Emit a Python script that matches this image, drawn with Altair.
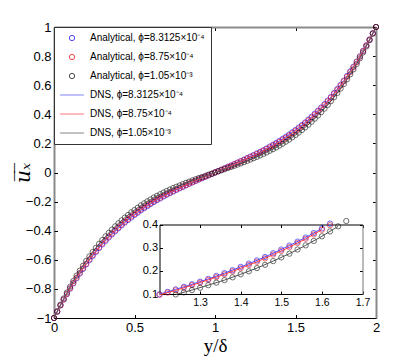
import altair as alt
import pandas as pd

# sampling positions y/delta
Y_ANALYTICAL = [round(0.02 * i, 2) for i in range(101)]
Y_DNS = [round(0.04 * i, 2) for i in range(51)]

U_AN_BLUE = [
    -1.000, -0.957, -0.914, -0.874, -0.836, -0.798, -0.762, -0.727, -0.695, -0.663,
    -0.631, -0.602, -0.574, -0.546, -0.519, -0.494, -0.470, -0.447, -0.425, -0.404,
    -0.383, -0.363, -0.344, -0.326, -0.309, -0.292, -0.276, -0.260, -0.245, -0.231,
    -0.217, -0.203, -0.190, -0.178, -0.165, -0.153, -0.142, -0.131, -0.120, -0.109,
    -0.099, -0.088, -0.078, -0.068, -0.058, -0.048, -0.039, -0.029, -0.019, -0.010,
    0.000,
    0.010, 0.019, 0.029, 0.039, 0.048, 0.058, 0.068, 0.078, 0.088, 0.099,
    0.109, 0.120, 0.131, 0.142, 0.153, 0.165, 0.178, 0.190, 0.203, 0.217,
    0.231, 0.245, 0.260, 0.276, 0.292, 0.309, 0.326, 0.344, 0.363, 0.383,
    0.404, 0.425, 0.447, 0.470, 0.494, 0.519, 0.546, 0.574, 0.602, 0.631,
    0.663, 0.695, 0.727, 0.762, 0.798, 0.836, 0.874, 0.914, 0.957, 1.000,
]
U_AN_RED = [
    -1.000, -0.956, -0.913, -0.873, -0.834, -0.796, -0.759, -0.723, -0.690, -0.658,
    -0.627, -0.597, -0.568, -0.541, -0.514, -0.488, -0.464, -0.441, -0.419, -0.397,
    -0.377, -0.357, -0.338, -0.320, -0.302, -0.286, -0.270, -0.254, -0.239, -0.225,
    -0.211, -0.198, -0.185, -0.173, -0.161, -0.149, -0.138, -0.127, -0.116, -0.106,
    -0.096, -0.086, -0.076, -0.066, -0.056, -0.047, -0.037, -0.028, -0.019, -0.009,
    0.000,
    0.009, 0.019, 0.028, 0.037, 0.047, 0.056, 0.066, 0.076, 0.086, 0.096,
    0.106, 0.116, 0.127, 0.138, 0.149, 0.161, 0.173, 0.185, 0.198, 0.211,
    0.225, 0.239, 0.254, 0.270, 0.286, 0.302, 0.320, 0.338, 0.357, 0.377,
    0.397, 0.419, 0.441, 0.464, 0.488, 0.514, 0.541, 0.568, 0.597, 0.627,
    0.658, 0.690, 0.723, 0.759, 0.796, 0.834, 0.873, 0.913, 0.956, 1.000,
]
U_AN_BLACK = [
    -1.000, -0.954, -0.909, -0.866, -0.825, -0.785, -0.746, -0.709, -0.675, -0.641,
    -0.608, -0.577, -0.547, -0.518, -0.490, -0.464, -0.439, -0.415, -0.392, -0.370,
    -0.349, -0.329, -0.310, -0.292, -0.274, -0.258, -0.242, -0.226, -0.212, -0.198,
    -0.185, -0.172, -0.160, -0.149, -0.138, -0.127, -0.117, -0.107, -0.098, -0.089,
    -0.080, -0.071, -0.063, -0.054, -0.046, -0.038, -0.031, -0.023, -0.015, -0.008,
    0.000,
    0.008, 0.015, 0.023, 0.031, 0.038, 0.046, 0.054, 0.063, 0.071, 0.080,
    0.089, 0.098, 0.107, 0.117, 0.127, 0.138, 0.149, 0.160, 0.172, 0.185,
    0.198, 0.212, 0.226, 0.242, 0.258, 0.274, 0.292, 0.310, 0.329, 0.349,
    0.370, 0.392, 0.415, 0.439, 0.464, 0.490, 0.518, 0.547, 0.577, 0.608,
    0.641, 0.675, 0.709, 0.746, 0.785, 0.825, 0.866, 0.909, 0.954, 1.000,
]

U_DNS_BLUE = [
    -1.000, -0.914, -0.836, -0.762, -0.695, -0.631, -0.574, -0.519, -0.470, -0.425,
    -0.383, -0.344, -0.309, -0.276, -0.245, -0.217, -0.190, -0.165, -0.142, -0.120,
    -0.099, -0.078, -0.058, -0.039, -0.019, 0.000, 0.019, 0.039, 0.058, 0.078,
    0.099, 0.120, 0.142, 0.165, 0.190, 0.217, 0.245, 0.276, 0.309, 0.344,
    0.383, 0.425, 0.470, 0.519, 0.574, 0.631, 0.695, 0.762, 0.836, 0.914, 1.000,
]
U_DNS_RED = [
    -1.000, -0.913, -0.834, -0.759, -0.690, -0.627, -0.568, -0.514, -0.464, -0.419,
    -0.377, -0.338, -0.302, -0.270, -0.239, -0.211, -0.185, -0.161, -0.138, -0.116,
    -0.096, -0.076, -0.056, -0.037, -0.019, 0.000, 0.019, 0.037, 0.056, 0.076,
    0.096, 0.116, 0.138, 0.161, 0.185, 0.211, 0.239, 0.270, 0.302, 0.338,
    0.377, 0.419, 0.464, 0.514, 0.568, 0.627, 0.690, 0.759, 0.834, 0.913, 1.000,
]
U_DNS_BLACK = [
    -1.000, -0.909, -0.825, -0.746, -0.675, -0.608, -0.547, -0.490, -0.439, -0.392,
    -0.349, -0.310, -0.274, -0.242, -0.212, -0.185, -0.160, -0.138, -0.117, -0.098,
    -0.080, -0.063, -0.046, -0.031, -0.015, 0.000, 0.015, 0.031, 0.046, 0.063,
    0.080, 0.098, 0.117, 0.138, 0.160, 0.185, 0.212, 0.242, 0.274, 0.310,
    0.349, 0.392, 0.439, 0.490, 0.547, 0.608, 0.675, 0.746, 0.825, 0.909, 1.000,
]

LABELS = [
    "Analytical, ϕ=8.3125×10⁻⁴",
    "Analytical, ϕ=8.75×10⁻⁴",
    "Analytical, ϕ=1.05×10⁻³",
    "DNS, ϕ=8.3125×10⁻⁴",
    "DNS, ϕ=8.75×10⁻⁴",
    "DNS, ϕ=1.05×10⁻³",
]
COLORS = ["#0000ff", "#ff0000", "#000000", "#5050ff", "#ff4040", "#505050"]
SHAPES = ["circle", "circle", "circle", "M-4.5,0H4.5", "M-4.5,0H4.5", "M-4.5,0H4.5"]

MAIN_X_TICKS = [0, 0.5, 1, 1.5, 2]
MAIN_Y_TICKS = [-1, -0.8, -0.6, -0.4, -0.2, 0, 0.2, 0.4, 0.6, 0.8, 1]
INSET_X_TICKS = [1.3, 1.4, 1.5, 1.6, 1.7]
INSET_Y_TICKS = [0.1, 0.2, 0.3, 0.4]

W, H = 322, 291
# inset rectangle inside the plot area (pixels)
IX0, IX1, IY0, IY1 = 105.5, 308.5, 267, 197.5

rows = []
for lab, vals in zip(LABELS[:3], [U_AN_BLUE, U_AN_RED, U_AN_BLACK]):
    for y, u in zip(Y_ANALYTICAL, vals):
        rows.append({"series": lab, "y": y, "u": u})
pts = pd.DataFrame(rows)
rows = []
for lab, vals in zip(LABELS[3:], [U_DNS_BLUE, U_DNS_RED, U_DNS_BLACK]):
    for y, u in zip(Y_DNS, vals):
        rows.append({"series": lab, "y": y, "u": u})
lines = pd.DataFrame(rows)

pts_in = pts[(pts.y >= 1.195) & (pts.u >= 0.095) & (pts.u <= 0.416)]
lines_in = lines[(lines.y >= 1.195) & (lines.u >= 0.095) & (lines.u <= 0.416)]

corners = pd.DataFrame({"y": [0.0, 2.0], "u": [-1.0, 1.0]})
corners_in = pd.DataFrame({"y": [1.2, 1.7], "u": [0.1, 0.4]})

color_enc = alt.Color("series:N", scale=alt.Scale(domain=LABELS, range=COLORS), title=None)
shape_enc = alt.Shape("series:N", scale=alt.Scale(domain=LABELS, range=SHAPES), title=None)

xs_main = alt.Scale(domain=[0, 2], nice=False, zero=False)
ys_main = alt.Scale(domain=[-1, 1], nice=False, zero=False)
xs_in = alt.Scale(domain=[1.2, 1.7], range=[IX0, IX1], nice=False, zero=False)
ys_in = alt.Scale(domain=[0.1, 0.4], range=[IY0, IY1], nice=False, zero=False)

GRAY = "#8a8a8a"
LF = "Liberation Sans"

def tick_axis(orient, offset, values, size, domain=False, dcolor="black", dwidth=1):
    return alt.Axis(orient=orient, offset=offset, values=values, labels=False, ticks=True,
                    tickSize=size, tickColor="black", tickWidth=1, domain=domain,
                    domainColor=dcolor, domainWidth=dwidth, grid=False, title=None)

# ---------- main axes ----------
x_main_axis = alt.Axis(orient="bottom", values=MAIN_X_TICKS, format="~g", ticks=False, grid=False,
                       domainColor="black", domainWidth=1, labelFont=LF, labelFontSize=13,
                       labelColor="black", labelPadding=3, labelFlush=False, labelOverlap=False,
                       title="y/δ", titleFont="Liberation Serif", titleFontSize=19,
                       titleFontWeight="normal", titleColor="black", titleY=33,
                       titleBaseline="alphabetic")
y_main_axis = alt.Axis(orient="left", values=MAIN_Y_TICKS, format="~g", ticks=False, grid=False,
                       domainColor=GRAY, domainWidth=2, labelFont=LF, labelFontSize=13,
                       labelColor="black", labelPadding=3, labelFlush=False, labelOverlap=False,
                       title="u̅ₓ̅", titleFont="DejaVu Serif", titleFontStyle="italic",
                       titleFontSize=20, titleFontWeight="normal", titleColor="black",
                       titleAngle=270, titleX=-31, titleY=145.5, titleAlign="center",
                       titleBaseline="middle")

main_pts = alt.Chart(pts).mark_point(filled=False, size=28, strokeWidth=0.8).encode(
    x=alt.X("y:Q", scale=xs_main, axis=x_main_axis),
    y=alt.Y("u:Q", scale=ys_main, axis=y_main_axis),
    color=color_enc, shape=shape_enc, order=alt.Order("y:Q"),
)
main_lines = alt.Chart(lines).mark_line(strokeWidth=1).encode(
    x=alt.X("y:Q", scale=xs_main, axis=x_main_axis),
    y=alt.Y("u:Q", scale=ys_main, axis=y_main_axis),
    color=color_enc, order=alt.Order("y:Q"),
)
main = alt.layer(main_pts, main_lines)

frame_b = alt.Chart(corners).mark_point(opacity=0).encode(
    x=alt.X("y:Q", scale=xs_main, axis=tick_axis("top", -H, MAIN_X_TICKS, 3.5)),
    y=alt.Y("u:Q", scale=ys_main, axis=tick_axis("right", -W, MAIN_Y_TICKS, 3.5)),
)
frame_c = alt.Chart(corners).mark_point(opacity=0).encode(
    x=alt.X("y:Q", scale=xs_main, axis=tick_axis("bottom", -H, MAIN_X_TICKS, 3.5, True, GRAY, 2)),
    y=alt.Y("u:Q", scale=ys_main, axis=tick_axis("left", -W, MAIN_Y_TICKS, 3.5, True, GRAY, 2)),
)

# ---------- inset ----------
x_in_axis = alt.Axis(orient="bottom", offset=-(H - IY0), values=INSET_X_TICKS, format="~g",
                     ticks=False, grid=False, domainColor="black", domainWidth=1,
                     labelFont=LF, labelFontSize=10.5, labelColor="black", labelPadding=3,
                     labelFlush=False, labelOverlap=False, title=None)
y_in_axis = alt.Axis(orient="left", offset=-IX0, values=INSET_Y_TICKS, format="~g",
                     ticks=False, grid=False, domainColor="black", domainWidth=1,
                     labelFont=LF, labelFontSize=11, labelColor="black", labelPadding=2,
                     labelFlush=False, labelOverlap=False, title=None)

in_pts = alt.Chart(pts_in).mark_point(filled=False, size=28, strokeWidth=0.8).encode(
    x=alt.X("y:Q", scale=xs_in, axis=x_in_axis),
    y=alt.Y("u:Q", scale=ys_in, axis=y_in_axis),
    color=color_enc, shape=shape_enc,
)
in_lines = alt.Chart(lines_in).mark_line(strokeWidth=1).encode(
    x=alt.X("y:Q", scale=xs_in, axis=x_in_axis),
    y=alt.Y("u:Q", scale=ys_in, axis=y_in_axis),
    color=color_enc, order=alt.Order("y:Q"),
)
inset = alt.layer(in_pts, in_lines)

in_frame_b = alt.Chart(corners_in).mark_point(opacity=0).encode(
    x=alt.X("y:Q", scale=xs_in, axis=tick_axis("top", -IY0, INSET_X_TICKS, 3)),
    y=alt.Y("u:Q", scale=ys_in, axis=tick_axis("right", -(W - IX0), INSET_Y_TICKS, 3)),
)
in_frame_c = alt.Chart(corners_in).mark_point(opacity=0).encode(
    x=alt.X("y:Q", scale=xs_in, axis=tick_axis("bottom", -(H - IY1), INSET_X_TICKS, 3, True)),
    y=alt.Y("u:Q", scale=ys_in, axis=tick_axis("left", -IX1, INSET_Y_TICKS, 3, True, "#777777", 1)),
)

chart = alt.layer(main, frame_b, frame_c, inset, in_frame_b, in_frame_c).resolve_scale(
    x="independent", y="independent"
).properties(
    width=W, height=H,
    autosize=alt.AutoSizeParams(type="none"),
    padding={"left": 46, "top": 19, "right": 31, "bottom": 38},
).configure_view(stroke=None).configure_axis(labelOverlap=False).configure_legend(
    orient="none", legendX=0, legendY=0, fillColor="white", strokeColor="#333333",
    padding=6, symbolOffset=7, labelOffset=13, rowPadding=9, labelFont=LF,
    labelFontSize=10, labelColor="black", symbolSize=28, symbolStrokeWidth=1,
    labelLimit=300,
)

chart.save("out.html", embed_options={"renderer": "svg", "actions": False})
